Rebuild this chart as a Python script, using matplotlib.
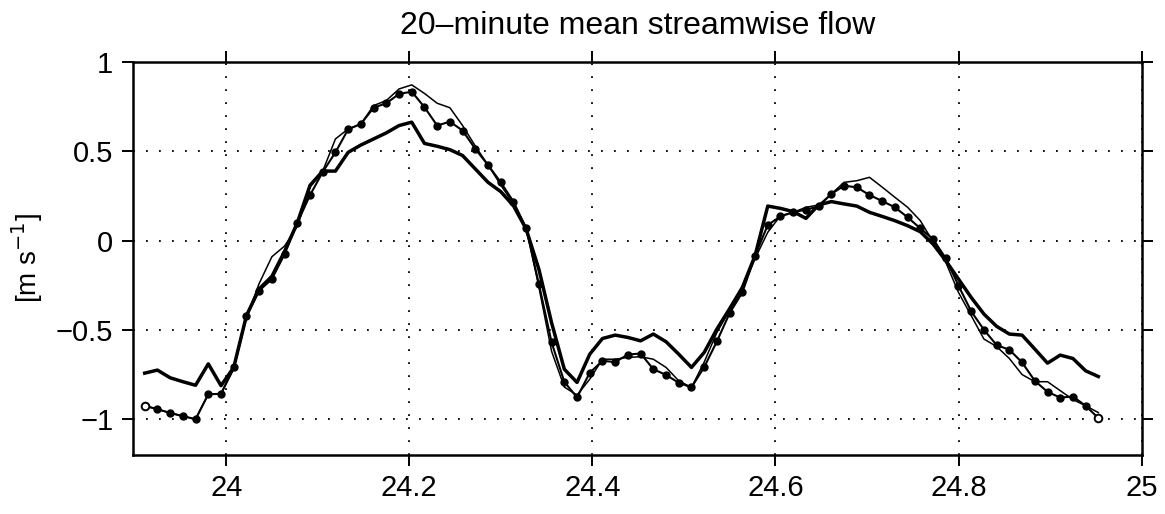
import numpy as np
import matplotlib
matplotlib.use("Agg")
import matplotlib.pyplot as plt

plt.rcParams['font.family'] = ['Liberation Sans', 'DejaVu Sans']

# 20-minute samples (time in days)
t_start = 23.911
t_step = 1 / 72
n = 76

thick = [-0.742, -0.725, -0.768, -0.79, -0.81, -0.69, -0.812, -0.71, -0.42, -0.27,
         -0.20, -0.06, 0.10, 0.31, 0.39, 0.39, 0.495, 0.536, 0.57, 0.604,
         0.645, 0.664, 0.545, 0.529, 0.51, 0.477, 0.402, 0.327, 0.275, 0.196,
         0.065, -0.16, -0.46, -0.72, -0.794, -0.636, -0.548, -0.529, -0.542, -0.561,
         -0.523, -0.566, -0.636, -0.71, -0.626, -0.495, -0.381, -0.262, -0.084, 0.194,
         0.181, 0.163, 0.125, 0.20, 0.219, 0.206, 0.194, 0.159, 0.136, 0.112,
         0.084, 0.05, -0.019, -0.112, -0.215, -0.318, -0.411, -0.48, -0.523, -0.529,
         -0.607, -0.686, -0.641, -0.66, -0.729, -0.761]

dots = [-0.925, -0.944, -0.965, -0.983, -1.0, -0.86, -0.858, -0.71, -0.42, -0.28,
        -0.215, -0.075, 0.10, 0.255, 0.385, 0.495, 0.624, 0.654, 0.745, 0.77,
        0.822, 0.835, 0.748, 0.645, 0.667, 0.617, 0.514, 0.424, 0.327, 0.219,
        0.069, -0.243, -0.57, -0.791, -0.878, -0.74, -0.673, -0.68, -0.638, -0.632,
        -0.72, -0.752, -0.796, -0.822, -0.708, -0.564, -0.406, -0.29, -0.084, 0.088,
        0.136, 0.159, 0.174, 0.192, 0.262, 0.308, 0.299, 0.256, 0.222, 0.187,
        0.131, 0.069, 0.009, -0.099, -0.252, -0.396, -0.499, -0.585, -0.611, -0.682,
        -0.785, -0.847, -0.879, -0.873, -0.925, -0.994]

thin = [-0.925, -0.944, -0.965, -0.983, -1.0, -0.86, -0.858, -0.72, -0.43, -0.24,
        -0.09, -0.03, 0.08, 0.30, 0.39, 0.57, 0.626, 0.654, 0.757, 0.785,
        0.85, 0.873, 0.825, 0.77, 0.745, 0.645, 0.53, 0.424, 0.312, 0.206,
        0.075, -0.26, -0.62, -0.82, -0.865, -0.776, -0.664, -0.664, -0.654, -0.65,
        -0.664, -0.71, -0.785, -0.822, -0.68, -0.514, -0.39, -0.27, -0.10, 0.047,
        0.14, 0.159, 0.187, 0.20, 0.262, 0.327, 0.336, 0.355, 0.30, 0.243,
        0.187, 0.112, -0.006, -0.121, -0.29, -0.42, -0.551, -0.593, -0.66, -0.75,
        -0.79, -0.79, -0.84, -0.89, -0.925, -0.963]

xticks = [24, 24.2, 24.4, 24.6, 24.8, 25]
yticks = [-1, -0.5, 0, 0.5, 1]

t = t_start + t_step * np.arange(n)

fig = plt.figure(figsize=(11.65, 5.14), dpi=100)
ax = fig.add_axes([0.114, 0.115, 0.866, 0.764])

ax.plot(t, thick, color='black', lw=2.5)
ax.plot(t, thin, color='black', lw=1.1)
ax.plot(t, dots, color='black', lw=1.5, marker='o', ms=5, markevery=list(range(1, n - 1)))
ax.plot([t[0], t[-1]], [dots[0], dots[-1]], ls='none', marker='o', ms=5.5,
        mfc='white', mec='black', mew=1.4)

ax.set_xlim(23.898, 25)
ax.set_ylim(-1.2, 1)
ax.set_xticks(xticks)
ax.set_xticklabels(['24', '24.2', '24.4', '24.6', '24.8', '25'])
ax.set_yticks(yticks)
ax.set_yticklabels(['\u22121', '\u22120.5', '0', '0.5', '1'])
ax.grid(True, color='black', linestyle=(0, (1, 6.2)), linewidth=1.3)
ax.tick_params(direction='out', length=8, width=1.4, labelsize=21,
               top=True, right=True, pad=6)
for s in ax.spines.values():
    s.set_linewidth(1.8)

ax.set_ylabel('[m s$^{-1}$]', fontsize=20, labelpad=8)
ax.set_title('20\u2013minute mean streamwise flow', fontsize=23, pad=20)

fig.savefig('out.png', dpi=100)
